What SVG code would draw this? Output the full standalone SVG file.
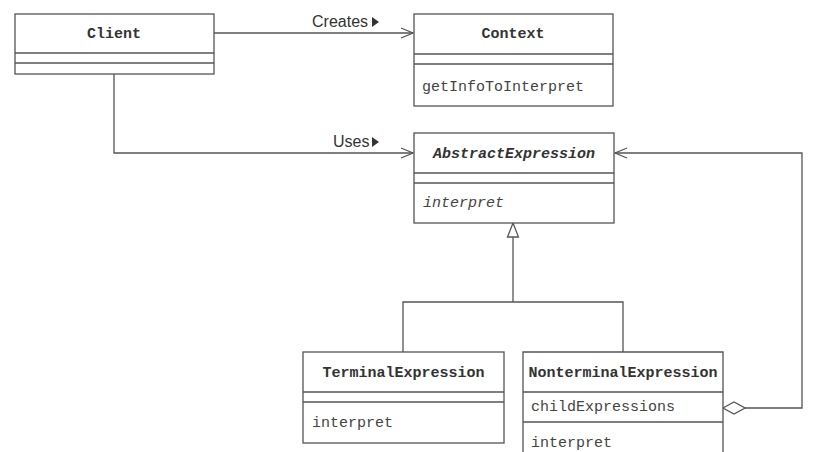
<svg xmlns="http://www.w3.org/2000/svg" width="831" height="452" viewBox="0 0 831 452">
<style>
.box{fill:#fff;stroke:#555;stroke-width:1.3}
.ln{fill:none;stroke:#555;stroke-width:1.3}
.t{font-family:"Liberation Mono","Courier New",monospace;font-size:15px;fill:#444}
.tb{font-family:"Liberation Mono","Courier New",monospace;font-size:15px;font-weight:bold;fill:#333;text-anchor:middle}
.lbl{font-family:"Liberation Sans",Arial,sans-serif;font-size:16px;fill:#333}
</style>
<defs>
<marker id="open" markerWidth="14" markerHeight="12" refX="13" refY="6" orient="auto" markerUnits="userSpaceOnUse">
<path d="M1,1 L13,6 L1,11" fill="none" stroke="#555" stroke-width="1.3"/>
</marker>
<marker id="tri" markerWidth="12" markerHeight="16" refX="6" refY="1" orient="0" markerUnits="userSpaceOnUse">
<path d="M6,1 L11,15 L1,15 Z" fill="#fff" stroke="#555" stroke-width="1.3"/>
</marker>
</defs>
<rect width="831" height="452" fill="#fff"/>
<g id="connectors">
<path class="ln" d="M214,33 H413" marker-end="url(#open)"/>
<text class="lbl" x="312" y="27">Creates</text>
<path d="M372,17 L379,22 L372,27 Z" fill="#333"/>
<path class="ln" d="M114,74 V153 H413" marker-end="url(#open)"/>
<text class="lbl" x="333" y="147">Uses</text>
<path d="M372,137 L379,142 L372,147 Z" fill="#333"/>
<path class="ln" d="M745,408 H802 V153 H615" marker-end="url(#open)"/>
<path d="M723,408 L734,402 L745,408 L734,414 Z" fill="#fff" stroke="#555" stroke-width="1.3"/>
<path class="ln" d="M403,352 V302 H623 V352"/>
<path class="ln" d="M513,302 V237"/>
<path d="M513,223 L518.5,237 L507.5,237 Z" fill="#fff" stroke="#555" stroke-width="1.3"/>
</g>
<g id="Client">
<rect class="box" x="15" y="14" width="199" height="60"/>
<path class="ln" d="M15,53 H214 M15,63 H214"/>
<text class="tb" x="114" y="38">Client</text>
</g>
<g id="Context">
<rect class="box" x="414" y="14" width="199" height="92"/>
<path class="ln" d="M414,54 H613 M414,64 H613"/>
<text class="tb" x="513" y="38">Context</text>
<text class="t" x="422" y="91">getInfoToInterpret</text>
</g>
<g id="AbstractExpression">
<rect class="box" x="414" y="133" width="200" height="90"/>
<path class="ln" d="M414,173 H614 M414,183 H614"/>
<text class="tb" x="514" y="158" font-style="italic">AbstractExpression</text>
<text class="t" x="423" y="207" font-style="italic">interpret</text>
</g>
<g id="TerminalExpression">
<rect class="box" x="303" y="352" width="201" height="91"/>
<path class="ln" d="M303,392 H504 M303,402 H504"/>
<text class="tb" x="403.5" y="377">TerminalExpression</text>
<text class="t" x="312" y="427">interpret</text>
</g>
<g id="NonterminalExpression">
<path class="box" d="M523,460 V352 H723 V460"/>
<path class="ln" d="M523,392 H723 M523,422 H723"/>
<text class="tb" x="623" y="377">NonterminalExpression</text>
<text class="t" x="531" y="411">childExpressions</text>
<text class="t" x="531" y="447">interpret</text>
</g>
</svg>
